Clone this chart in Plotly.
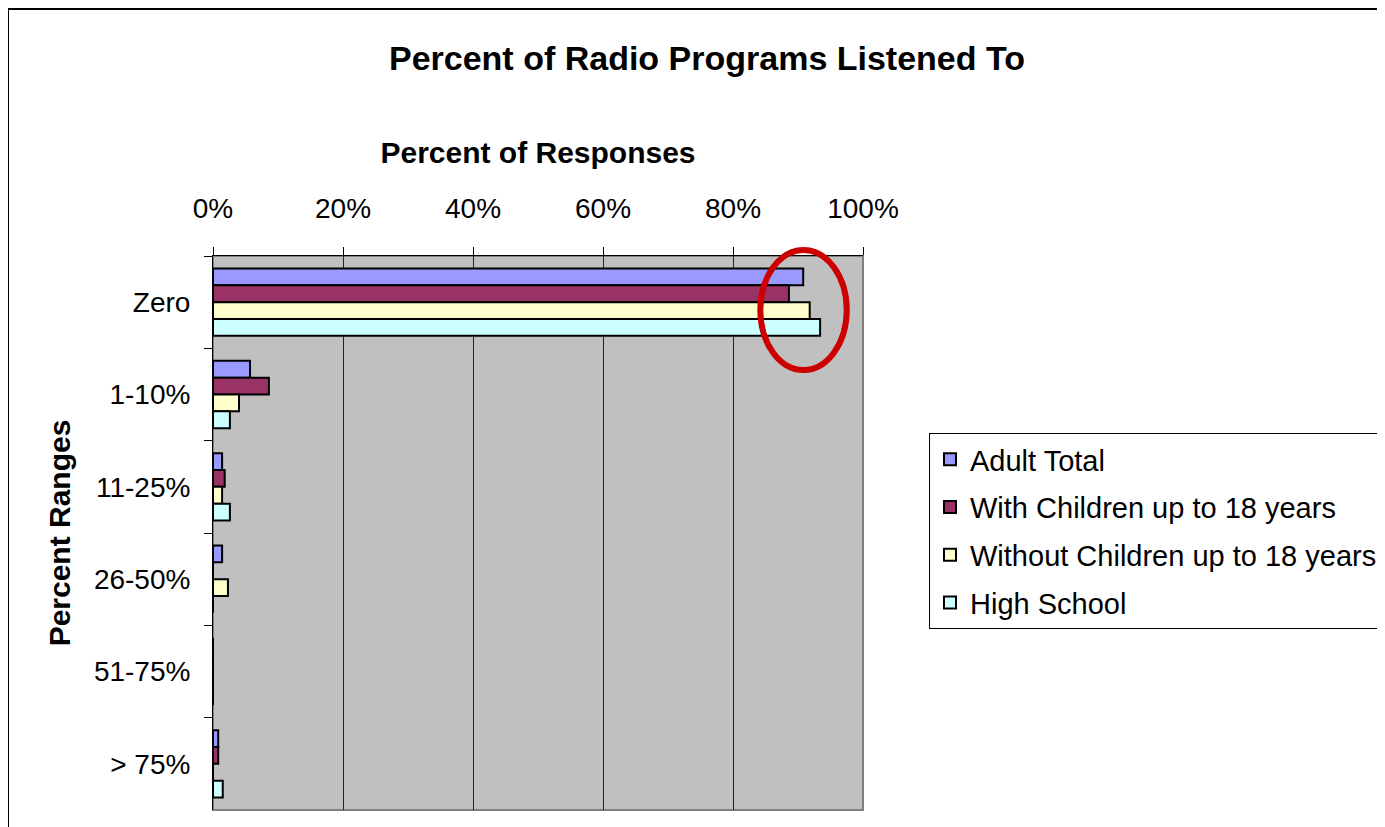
import plotly.graph_objects as go

# categories (top to bottom) and series values in percent
ranges = ["Zero", "1-10%", "11-25%", "26-50%", "51-75%", "> 75%"]
adult_total = [90.8, 5.7, 1.4, 1.4, 0, 0.8]
with_children = [88.6, 8.6, 1.8, 0, 0, 0.8]
without_children = [91.8, 4.0, 1.4, 2.3, 0, 0]
high_school = [93.4, 2.6, 2.6, 0, 0, 1.5]

series_names = ["Adult Total", "With Children up to 18 years",
                "Without Children up to 18 years", "High School"]
series_values = [adult_total, with_children, without_children, high_school]
series_colors = ["#9999FF", "#993366", "#FFFFCC", "#CCFFFF"]

x_ticks = [0, 20, 40, 60, 80, 100]
x_tick_labels = ["0%", "20%", "40%", "60%", "80%", "100%"]

FONT = "Liberation Sans, Arial, sans-serif"

# the page puts the figure 8px in from the top-left corner
W, H = 1377, 819
PL, PR, PT, PB = 205, 855, 248, 802  # plot area in figure pixels
pw, ph = PR - PL, PB - PT

fig = go.Figure()
for i, (name, vals, col) in enumerate(zip(series_names, series_values, series_colors)):
    fig.add_trace(go.Bar(
        y=ranges, x=vals, name=name, orientation="h",
        marker=dict(color=col, line=dict(color="black", width=2)),
        legendgroup="g%d" % i,
    ))

fig.update_layout(
    width=W, height=H,
    margin=dict(l=PL, r=W - PR, t=PT, b=H - PB),
    paper_bgcolor="white", plot_bgcolor="#C0C0C0",
    barmode="group", bargap=0.27, bargroupgap=0,
    font=dict(family=FONT, color="black", size=28),
    title=dict(text="<b>Percent of Radio Programs Listened To</b>",
               x=699 / W, xref="container", xanchor="center",
               y=1 - 50 / H, yref="container", yanchor="middle",
               font=dict(size=34, family=FONT)),
    xaxis=dict(
        side="top", range=[0, 100], tickvals=x_ticks, ticktext=x_tick_labels,
        showgrid=True, gridcolor="#222222", gridwidth=1,
        showline=True, linecolor="black", linewidth=1,
        ticks="outside", ticklen=8, tickcolor="black",
        ticklabelstandoff=18, tickfont=dict(size=28), zeroline=False,
        title=dict(text="<b>Percent of Responses</b>", font=dict(size=30), standoff=20),
    ),
    yaxis=dict(
        categoryorder="array", categoryarray=ranges,
        range=[len(ranges) - 0.5, -0.5],
        showline=True, linecolor="black", linewidth=1,
        ticks="outside", ticklen=8, tickcolor="black", tickson="boundaries",
        ticklabelstandoff=16, tickfont=dict(size=28), showgrid=False,
        title=dict(text="<b>Percent Ranges</b>", font=dict(size=30), standoff=14),
    ),
    legend=dict(
        xref="container", yref="container",
        x=921 / W, y=1 - 425 / H, xanchor="left", yanchor="top",
        bordercolor="black", borderwidth=1, bgcolor="white",
        font=dict(size=29, family=FONT),
        traceorder="grouped", tracegroupgap=7,
        entrywidth=480, entrywidthmode="pixels",
    ),
    showlegend=True,
)

# grey frame around the plot area (right/bottom edges)
fig.add_shape(type="rect", xref="paper", yref="paper", x0=0, x1=1, y0=0, y1=1,
              line=dict(color="#808080", width=2), layer="below")
# outer chart border, running past the right and bottom edges
fig.add_shape(type="rect", xref="paper", yref="paper",
              x0=(0 - PL) / pw, x1=(1420 - PL) / pw,
              y0=(PB - 860) / ph, y1=(PB - 1) / ph,
              line=dict(color="black", width=2))
# red highlight ellipse around the "Zero" bars (pokes a little above the plot)
fig.add_shape(type="circle", xref="x", yref="paper",
              x0=84.2, x1=97.5, y0=(PB - 362) / ph, y1=(PB - 242) / ph,
              line=dict(color="#CC0000", width=6))

fig.write_html("out.html")
